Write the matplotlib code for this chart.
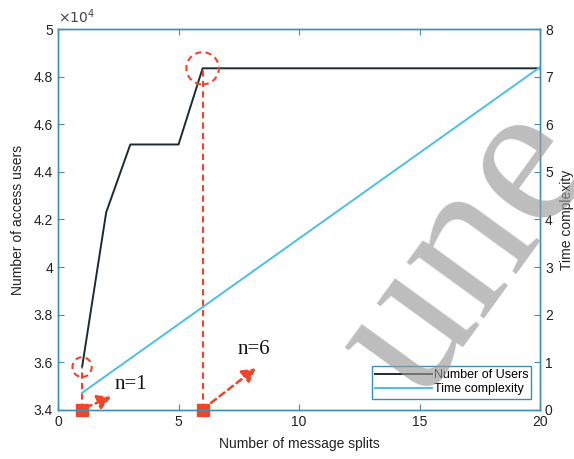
import matplotlib
matplotlib.use("Agg")
import matplotlib.pyplot as plt
from matplotlib.patches import Ellipse

# ---- data ----
splits_users = [1, 2, 3, 5, 6, 20]
num_users = [35800, 42300, 45150, 45150, 48350, 48350]
splits_time = [1, 20]
time_complexity = [0.36, 7.2]
left_ticks = [34000, 36000, 38000, 40000, 42000, 44000, 46000, 48000, 50000]
left_ticklabels = ["3.4", "3.6", "3.8", "4", "4.2", "4.4", "4.6", "4.8", "5"]
right_ticks = [0, 1, 2, 3, 4, 5, 6, 7, 8]
x_ticks = [0, 5, 10, 15, 20]
highlight_n = [1, 6]
highlight_users = [35800, 48350]
highlight_labels = ["n=1", "n=6"]

plt.rcParams['font.family'] = ['Liberation Sans', 'DejaVu Sans']

spine_c = "#3f8fb5"
black_c = "#1c2b33"
cyan_c = "#4dbfe0"
red_c = "#f0452a"

fig = plt.figure(figsize=(5.74, 4.59), dpi=100)
ax = fig.add_axes([0.101, 0.1068, 0.840, 0.830])
ax2 = ax.twinx()

l1, = ax.plot(splits_users, num_users, color=black_c, lw=1.4, label="Number of Users", zorder=3)
l2, = ax2.plot(splits_time, time_complexity, color=cyan_c, lw=1.4, label="Time complexity", zorder=3)

ax.set_xlim(0, 20)
ax.set_ylim(34000, 50000)
ax2.set_ylim(0, 8)
ax.set_xticks(x_ticks)
ax.set_yticks(left_ticks)
ax.set_yticklabels(left_ticklabels)
ax2.set_yticks(right_ticks)

for a in (ax, ax2):
    for s in a.spines.values():
        s.set_color(spine_c)
        s.set_linewidth(1.0)
ax.tick_params(axis='both', direction='in', colors=spine_c, labelcolor='#222222',
               labelsize=10, length=4, top=True)
ax.tick_params(axis='y', right=False)
ax2.tick_params(axis='y', direction='in', colors=spine_c, labelcolor='#222222',
                labelsize=10, length=4)

ax.set_xlabel("Number of message splits", fontsize=10, color='#222222', labelpad=6)
ax.set_ylabel("Number of access users", fontsize=10, color='#222222', labelpad=6)
ax2.set_ylabel("Time complexity", fontsize=10, color='#222222', labelpad=5)
ax.text(0.0, 1.008, r"$\times10^4$", transform=ax.transAxes, fontsize=10,
        color='#444444', ha='left', va='bottom')

# annotations
for n, u in zip(highlight_n, highlight_users):
    ax.plot([n, n], [34000, u], color=red_c, lw=1.5, ls=(0, (3, 2)), zorder=4)
    ax.plot([n], [34000], marker='s', color=red_c, ms=8, clip_on=False, zorder=6)
ax.add_patch(Ellipse((highlight_n[0], highlight_users[0]), width=0.8, height=830,
                     fill=False, edgecolor=red_c, lw=1.5, ls=(0, (3, 2)), zorder=4))
ax.add_patch(Ellipse((highlight_n[1], highlight_users[1]), width=1.35, height=1350,
                     fill=False, edgecolor=red_c, lw=1.5, ls=(0, (3, 2)), zorder=4))

arrow_kw = dict(arrowstyle='-|>,head_length=0.8,head_width=0.45', color=red_c, lw=1.8,
                ls=(0, (2.5, 1.8)), shrinkA=0, shrinkB=0)
ax.annotate("", xy=(2.2, 34550), xytext=(1.15, 34100), arrowprops=arrow_kw, zorder=6)
ax.annotate("", xy=(8.2, 35750), xytext=(6.35, 34300), arrowprops=arrow_kw, zorder=6)
ax.text(2.35, 35050, highlight_labels[0], family='Liberation Serif', fontsize=15,
        color='#111111', va='center', ha='left')
ax.text(7.45, 36520, highlight_labels[1], family='Liberation Serif', fontsize=15,
        color='#111111', va='center', ha='left')

leg = ax2.legend(handles=[l1, l2], loc='lower right', bbox_to_anchor=(0.982, 0.03),
                 fontsize=9, handlelength=4.6, handletextpad=0.1, borderpad=0.25,
                 labelspacing=0.2, fancybox=False, framealpha=1, borderaxespad=0)
leg.get_frame().set_edgecolor(spine_c)
leg.get_frame().set_linewidth(1.0)

# watermark
fig.text(0.815, 0.45, "une", fontsize=150, family='Liberation Serif', color='#9a9a9a',
         alpha=0.65, rotation=54, ha='center', va='center', zorder=10)

fig.savefig("out.png", dpi=100)
